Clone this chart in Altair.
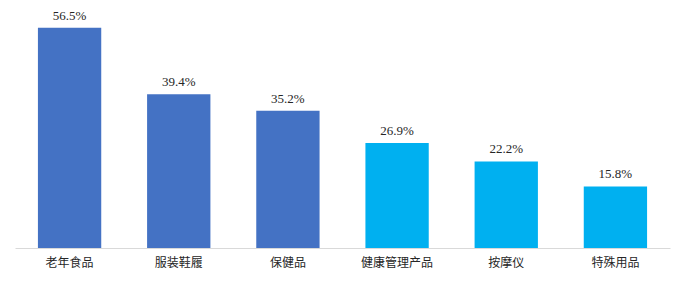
import altair as alt
import pandas as pd

categories = ["老年食品", "服装鞋履", "保健品", "健康管理产品", "按摩仪", "特殊用品"]
values = [56.5, 39.4, 35.2, 26.9, 22.2, 15.8]
groups = ["A", "A", "A", "B", "B", "B"]
labels = ["56.5%", "39.4%", "35.2%", "26.9%", "22.2%", "15.8%"]

df = pd.DataFrame({"cat": categories, "val": values, "grp": groups, "lab": labels})

x = alt.X("cat:N", sort=categories, title=None,
          scale=alt.Scale(paddingInner=0.42, paddingOuter=0.21),
          axis=alt.Axis(labelAngle=0, ticks=False, domainColor="#d9d9d9", domainWidth=1,
                        labelFont="Noto Sans CJK SC", labelFontSize=12, labelColor="#262626",
                        labelPadding=9, grid=False))
y = alt.Y("val:Q", scale=alt.Scale(domain=[0, 60]), axis=None)

bars = alt.Chart(df).mark_bar().encode(
    x=x, y=y,
    color=alt.Color("grp:N", scale=alt.Scale(domain=["A", "B"], range=["#4472C4", "#00B0F0"]), legend=None),
)
text = alt.Chart(df).mark_text(baseline="bottom", dy=-5, font="Liberation Serif", fontSize=13, color="#262626").encode(
    x=alt.X("cat:N", sort=categories), y="val:Q", text="lab:N"
)

chart = (bars + text).properties(
    width=655, height=234,
    autosize=alt.AutoSizeParams(type="none"),
    padding={"left": 15, "top": 14, "right": 23, "bottom": 44},
).configure_view(stroke=None)

chart.save("out.html", embed_options={"renderer": "svg", "actions": False})
